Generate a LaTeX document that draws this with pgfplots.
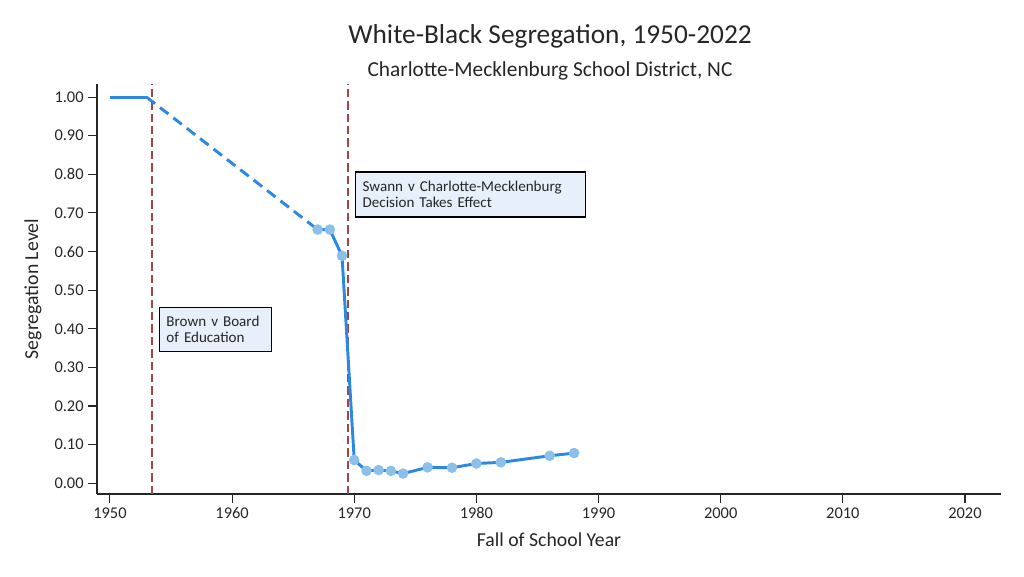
\documentclass[border=0pt]{standalone}
\usepackage{fontspec}
\setmainfont{Carlito}
\usepackage{pgfplots}
\pgfplotsset{compat=1.18}
\definecolor{lineblue}{HTML}{2C89E3}
\definecolor{markblue}{HTML}{8CC0EA}
\definecolor{vred}{HTML}{A34545}
\definecolor{boxfill}{HTML}{E7F0FA}
\definecolor{txt}{HTML}{262626}
\begin{document}
\begin{tikzpicture}
\useasboundingbox (-72.75pt,-61.5pt) rectangle (695.25pt,370.5pt);
\begin{axis}[
  at={(0pt,0pt)}, anchor=south west,
  scale only axis, width=678pt, height=307.5pt,
  xmin=1948.94, xmax=2022.95, ymin=-0.028, ymax=1.034,
  axis x line=bottom, axis y line=left,
  axis line style={-, black!85, line width=0.8pt},
  xtick={1950,1960,1970,1980,1990,2000,2010,2020},
  ytick={0,0.1,0.2,0.3,0.4,0.5,0.6,0.7,0.8,0.9,1.0},
  tick align=outside, major tick length=6.5pt,
  tick style={black!85, line width=0.8pt},
  xticklabel style={/pgf/number format/1000 sep={}},
  yticklabel style={/pgf/number format/.cd, fixed, fixed zerofill, precision=2},
  /pgf/number format/assume math mode=true,
  tick label style={font=\fontsize{12.3}{14}\selectfont, text=txt},
  xlabel={Fall of School Year}, ylabel={Segregation Level},
  label style={font=\fontsize{14.8}{16}\selectfont, text=txt},
  xlabel style={at={(axis description cs:0.5,-0.112)}, anchor=center},
  ylabel style={at={(axis description cs:-0.0708,0.5)}, anchor=center, rotate=0},
  clip=false,
]
\addplot[vred, line width=1.3pt, dash pattern=on 6.3pt off 3pt] coordinates {(1953.45,-0.028) (1953.45,1.034)};
\addplot[vred, line width=1.3pt, dash pattern=on 6.3pt off 3pt] coordinates {(1969.5,-0.028) (1969.5,1.034)};
\addplot[lineblue, line width=2.2pt] coordinates {(1950,1.0) (1953,1.0)};
\addplot[lineblue, line width=2.2pt, dash pattern=on 8pt off 4.7pt] coordinates {(1953,1.0) (1967,0.657)};
\addplot[lineblue, line width=2.2pt, mark=*, mark size=2.8pt, mark options={fill=markblue, draw=markblue, solid}] coordinates {
(1967,0.657) (1968,0.657) (1969,0.589) (1970,0.060) (1971,0.032) (1972,0.034) (1973,0.032) (1974,0.025) (1976,0.041) (1978,0.040) (1980,0.051) (1982,0.054) (1986,0.071) (1988,0.078)};
\node[draw=black, fill=boxfill, line width=1pt, anchor=north west, align=left, text=txt,
  font=\fontsize{11.3}{12}\selectfont, text width=73.5pt, inner xsep=5.25pt, minimum height=33pt] at (axis cs:1954.0,0.456) {Brown v Board\\of Education};
\node[draw=black, fill=boxfill, line width=1pt, anchor=north west, align=left, text=txt,
  font=\fontsize{11.3}{12}\selectfont, text width=162pt, inner xsep=5.25pt, minimum height=33.75pt] at (axis cs:1970.06,0.808) {Swann v Charlotte-Mecklenburg\\Decision Takes Effect};
\end{axis}
\node[font=\fontsize{20.5}{22}\selectfont, text=txt] at (339.75pt,343.5pt) {White-Black Segregation, 1950-2022};
\node[font=\fontsize{16}{18}\selectfont, text=txt] at (339.75pt,317.25pt) {Charlotte-Mecklenburg School District, NC};
\end{tikzpicture}
\end{document}
